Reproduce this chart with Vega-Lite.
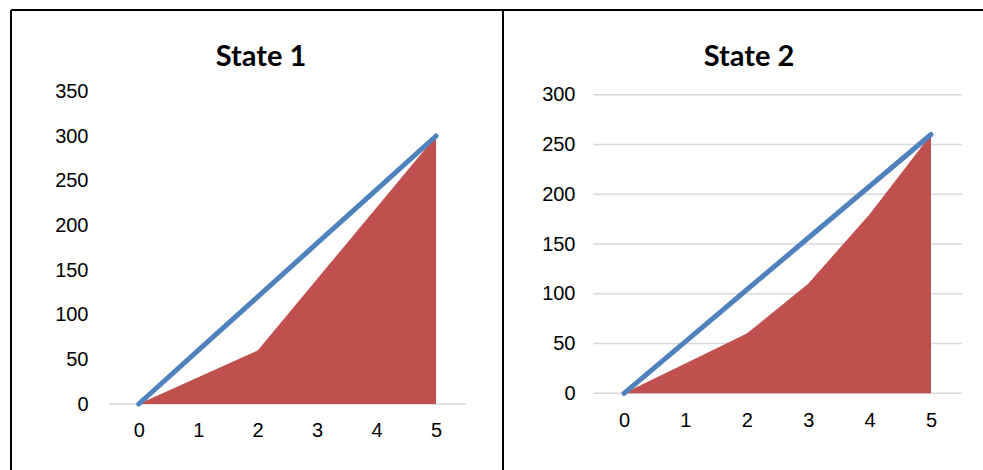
{
  "$schema": "https://vega.github.io/schema/vega-lite/v6.json",
  "padding": {"left": 10, "top": 9, "right": 0, "bottom": 0},
  "background": "white",
  "spacing": 0,
  "bounds": "flush",
  "config": {
    "view": {"stroke": null},
    "axis": {
      "labelFont": "Liberation Sans",
      "labelFontSize": 20,
      "labelColor": "#000000",
      "domain": false,
      "ticks": false,
      "grid": false,
      "labelPadding": 0,
      "title": null
    },
    "title": {
      "font": "Lato",
      "fontSize": 29,
      "fontWeight": "bold",
      "color": "#000000",
      "anchor": "middle",
      "frame": "group",
      "baseline": "alphabetic"
    }
  },
  "datasets": {
    "state1": [
      {"x": 0, "ideal": 0, "actual": 0},
      {"x": 1, "ideal": 60, "actual": 30},
      {"x": 2, "ideal": 120, "actual": 60},
      {"x": 3, "ideal": 180, "actual": 140},
      {"x": 4, "ideal": 240, "actual": 220},
      {"x": 5, "ideal": 300, "actual": 300}
    ],
    "state2": [
      {"x": 0, "ideal": 0, "actual": 0},
      {"x": 1, "ideal": 52, "actual": 30},
      {"x": 2, "ideal": 104, "actual": 60},
      {"x": 3, "ideal": 156, "actual": 110},
      {"x": 4, "ideal": 208, "actual": 180},
      {"x": 5, "ideal": 260, "actual": 260}
    ],
    "grid1": [{"g": 0}],
    "grid2": [{"g": 0}, {"g": 50}, {"g": 100}, {"g": 150}, {"g": 200}, {"g": 250}, {"g": 300}],
    "frame": [{"edge": "box"}]
  },
  "hconcat": [
    {
      "width": 492,
      "height": 460,
      "title": {"text": "State 1", "offset": -63, "dx": 4},
      "layer": [
        {
          "data": {"name": "grid1"},
          "mark": {"type": "rule", "color": "#D9D9D9", "strokeWidth": 1.5},
          "encoding": {
            "x": {"datum": -0.5, "type": "quantitative", "scale": {"domain": [-2.148, 6.126], "nice": false, "zero": false}, "axis": {"values": [0, 1, 2, 3, 4, 5], "format": "d", "orient": "bottom", "offset": -40, "labelBaseline": "middle"}},
            "x2": {"datum": 5.5},
            "y": {"field": "g", "type": "quantitative", "scale": {"domain": [-73.88, 441.06], "nice": false, "zero": false}, "axis": {"values": [0, 50, 100, 150, 200, 250, 300, 350], "format": "d", "orient": "left", "offset": -77}}
          }
        },
        {
          "data": {"name": "state1"},
          "mark": {"type": "area", "color": "#C0504D", "opacity": 1},
          "encoding": {
            "x": {"field": "x", "type": "quantitative"},
            "y": {"field": "actual", "type": "quantitative"}
          }
        },
        {
          "data": {"name": "state1"},
          "mark": {"type": "line", "color": "#4F81BD", "strokeWidth": 5, "strokeCap": "round", "strokeJoin": "round"},
          "encoding": {
            "x": {"field": "x", "type": "quantitative"},
            "y": {"field": "ideal", "type": "quantitative"}
          }
        },
        {
          "data": {"name": "frame"},
          "mark": {"type": "rule", "color": "#000000", "strokeWidth": 2},
          "encoding": {"x": {"datum": -2.148, "type": "quantitative"}}
        },
        {
          "data": {"name": "frame"},
          "mark": {"type": "rule", "color": "#000000", "strokeWidth": 2},
          "encoding": {"y": {"datum": 441.06, "type": "quantitative"}}
        }
      ]
    },
    {
      "width": 480,
      "height": 460,
      "title": {"text": "State 2", "offset": -63, "dx": 6},
      "layer": [
        {
          "data": {"name": "grid2"},
          "mark": {"type": "rule", "color": "#D9D9D9", "strokeWidth": 1.5},
          "encoding": {
            "x": {"datum": -0.5, "type": "quantitative", "scale": {"domain": [-1.971, 5.847], "nice": false, "zero": false}, "axis": {"values": [0, 1, 2, 3, 4, 5], "format": "d", "orient": "bottom", "offset": -50, "labelBaseline": "middle"}},
            "x2": {"datum": 5.5},
            "y": {"field": "g", "type": "quantitative", "scale": {"domain": [-77.06, 385.1], "nice": false, "zero": false}, "axis": {"values": [0, 50, 100, 150, 200, 250, 300], "format": "d", "orient": "left", "offset": -72}}
          }
        },
        {
          "data": {"name": "state2"},
          "mark": {"type": "area", "color": "#C0504D", "opacity": 1},
          "encoding": {
            "x": {"field": "x", "type": "quantitative"},
            "y": {"field": "actual", "type": "quantitative"}
          }
        },
        {
          "data": {"name": "state2"},
          "mark": {"type": "line", "color": "#4F81BD", "strokeWidth": 5, "strokeCap": "round", "strokeJoin": "round"},
          "encoding": {
            "x": {"field": "x", "type": "quantitative"},
            "y": {"field": "ideal", "type": "quantitative"}
          }
        },
        {
          "data": {"name": "frame"},
          "mark": {"type": "rule", "color": "#000000", "strokeWidth": 2},
          "encoding": {"x": {"datum": -1.971, "type": "quantitative"}}
        },
        {
          "data": {"name": "frame"},
          "mark": {"type": "rule", "color": "#000000", "strokeWidth": 2},
          "encoding": {"y": {"datum": 385.1, "type": "quantitative"}}
        }
      ]
    }
  ]
}
